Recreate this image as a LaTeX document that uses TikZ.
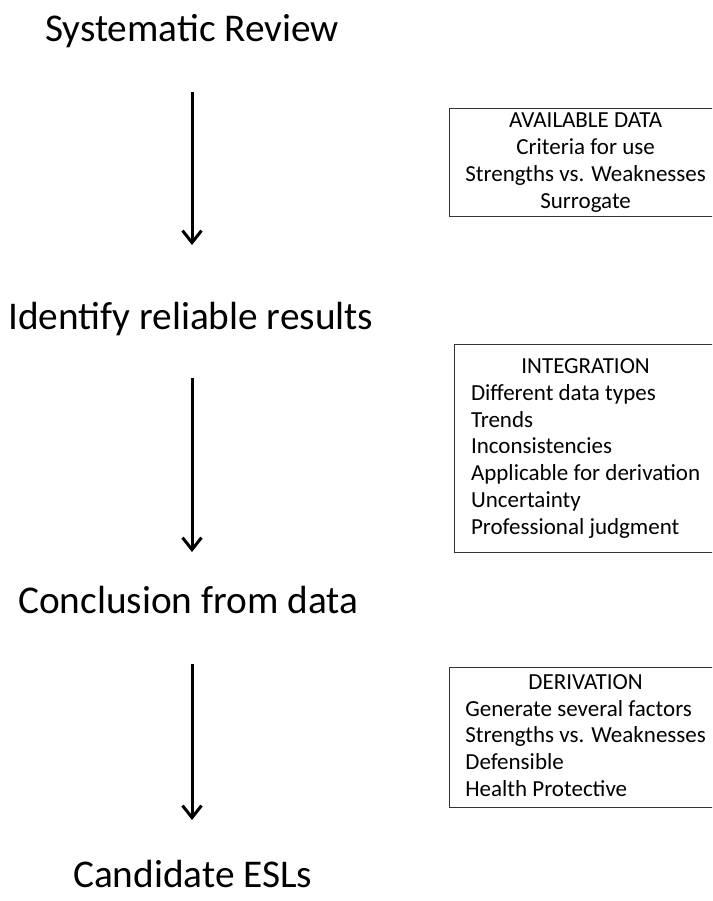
\documentclass[tikz,border=0pt]{standalone}
\usepackage{fontspec}
\setmainfont{Carlito}
\usetikzlibrary{arrows.meta, positioning}

\tikzset{
  steplabel/.style={font=\fontsize{39.3}{45}\selectfont, inner sep=0pt, anchor=base west},
  infobox/.style={draw=black!80, line width=1.2pt, font=\fontsize{23}{26.8}\selectfont, inner sep=0pt, anchor=north west},
  flowarrow/.style={line width=3pt, -{Straight Barb[length=12pt, width=19pt, line width=3pt]}}
}

\begin{document}
\begin{tikzpicture}[x=1pt, y=-1pt]
    \useasboundingbox (0,0) rectangle (712,901);
    \clip (0,0) rectangle (712,901);

    % steps on the left
    \node[steplabel] (review) at (45,42) {Systematic Review};
    \node[steplabel] (reliable) at (8,329) {Identify reliable results};
    \node[steplabel] (conclusion) at (18,613) {Conclusion from data};
    \node[steplabel] (candidate) at (73,887) {Candidate ESLs};

    % arrow ends
    \coordinate (a1top) at (192,92);
    \coordinate (a1tip) at (192,245);
    \coordinate (a2top) at (192,378);
    \coordinate (a2tip) at (192,552);
    \coordinate (a3top) at (192,664);
    \coordinate (a3tip) at (192,820);

    \draw[flowarrow] (a1top) -- (a1tip);
    \draw[flowarrow] (a2top) -- (a2tip);
    \draw[flowarrow] (a3top) -- (a3tip);

    % boxes on the right
    \node[infobox, minimum width=272pt, minimum height=108pt] (available) at (449,108)
      {\begin{tabular}{@{}c@{}}AVAILABLE DATA\\ Criteria for use\\ Strengths vs. Weaknesses\\ Surrogate\end{tabular}};

    \node[infobox, minimum width=262pt, minimum height=208pt] (integration) at (454,344)
      {\begin{tabular}{@{}l@{}}\multicolumn{1}{@{}c@{}}{INTEGRATION}\\ Different data types\\ Trends\\ Inconsistencies\\ Applicable for derivation\\ Uncertainty\\ Professional judgment\end{tabular}};

    \node[infobox, minimum width=272pt, minimum height=140pt] (derivation) at (449,667)
      {\begin{tabular}{@{}l@{}}\multicolumn{1}{@{}c@{}}{DERIVATION}\\ Generate several factors\\ Strengths vs. Weaknesses\\ Defensible\\ Health Protective\end{tabular}};

\end{tikzpicture}
\end{document}
